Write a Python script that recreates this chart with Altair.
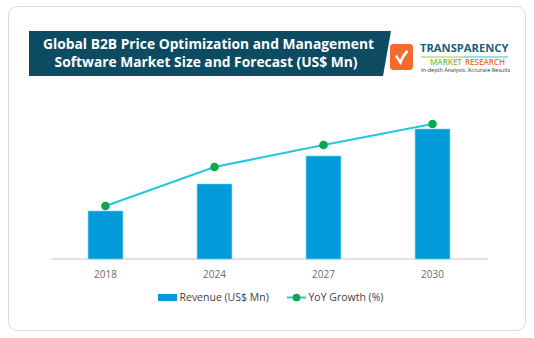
import altair as alt
import pandas as pd

# ---- data ----
years = ["2018", "2024", "2027", "2030"]
revenue = [480, 750, 1030, 1300]          # US$ Mn (relative)
yoy_growth = [5.3, 9.2, 11.4, 13.5]       # % (relative)

title_lines = ["Global B2B Price Optimization and Management",
               "Software Market Size and Forecast (US$ Mn)"]
legend_labels = ["Revenue (US$ Mn)", "YoY Growth (%)"]

df = pd.DataFrame({"year": years, "revenue": revenue, "growth": yoy_growth})
one = pd.DataFrame({"k": [0]})

W, H = 534, 338
FONT = "Open Sans"
BAR = "#019cd9"
LINE = "#22c8da"
DOT = "#0aa84e"
BANNER = "#0c4b62"

xs = alt.Scale(domain=years, range=[51, 487], paddingInner=0.68, paddingOuter=0.34)
ys_rev = alt.Scale(domain=[0, 1690], range=[259, 90])
ys_gr = alt.Scale(domain=[0, 16.9], range=[259, 90])

base = alt.Chart(df)

card = alt.Chart(one).mark_rect(
    fill="white", stroke="#dcdcdc", strokeWidth=1, cornerRadius=9
).encode(x=alt.value(8.5), x2=alt.value(525.5), y=alt.value(6.5), y2=alt.value(330.5))

banner = alt.Chart(one).mark_point(
    shape="M -1 -0.1243 L 1 -0.1243 L 0.9558 0.1243 L -1 0.1243 Z",
    filled=True, fill=BANNER, opacity=1, strokeWidth=0, size=131044
).encode(x=alt.value(210), y=alt.value(53.5))

title1 = alt.Chart(one).mark_text(
    text=title_lines[0], font=FONT, fontSize=13.8, fontWeight="bold", color="white",
    align="center", baseline="middle"
).encode(x=alt.value(208.5), y=alt.value(44.5))
title2 = alt.Chart(one).mark_text(
    text=title_lines[1], font=FONT, fontSize=13.8, fontWeight="bold", color="white",
    align="center", baseline="middle"
).encode(x=alt.value(206), y=alt.value(63))

# logo
logo_sq = alt.Chart(one).mark_rect(fill="#f26b2d", cornerRadius=3).encode(
    x=alt.value(390), x2=alt.value(413), y=alt.value(44), y2=alt.value(70))
logo_check = alt.Chart(one).mark_point(
    shape="M -0.55 -0.15 Q -0.35 0.2 -0.1 0.55 Q 0.1 -0.1 0.6 -0.6",
    filled=False, stroke="white", strokeWidth=2.5, opacity=1, size=400
).encode(x=alt.value(401.5), y=alt.value(57))
logo_t1 = alt.Chart(one).mark_text(
    text="TRANSPARENCY", font=FONT, fontSize=11.2, fontWeight="bold", color="#1b5f78",
    align="left", baseline="middle"
).encode(x=alt.value(420), y=alt.value(49))
logo_line_a = alt.Chart(one).mark_rule(strokeWidth=1.2, color="#9ccb4a").encode(
    x=alt.value(421), x2=alt.value(464), y=alt.value(57))
logo_line_b = alt.Chart(one).mark_rule(strokeWidth=1.2, color="#3bb6e3").encode(
    x=alt.value(464), x2=alt.value(508), y=alt.value(57))
logo_t2a = alt.Chart(one).mark_text(
    text="MARKET", font=FONT, fontSize=8, fontWeight=600, color="#7cbf35",
    align="left", baseline="middle"
).encode(x=alt.value(430), y=alt.value(63))
logo_t2b = alt.Chart(one).mark_text(
    text="RESEARCH", font=FONT, fontSize=8, fontWeight=600, color="#f26b2d",
    align="left", baseline="middle"
).encode(x=alt.value(465), y=alt.value(63))
logo_t3 = alt.Chart(one).mark_text(
    text="In-depth Analysis. Accurate Results", font=FONT, fontSize=5.5, color="#333333",
    align="left", baseline="middle"
).encode(x=alt.value(421), y=alt.value(70))

# plot
axis_line = alt.Chart(one).mark_rule(color="#e3e3e3", strokeWidth=2).encode(
    x=alt.value(51), x2=alt.value(488), y=alt.value(259))

bars = base.mark_bar(color=BAR, stroke="#7fd0ee", strokeWidth=0.6).encode(
    x=alt.X("year:N", scale=xs, axis=None, sort=years),
    y=alt.Y("revenue:Q", scale=ys_rev, axis=None),
)
line = base.mark_line(color=LINE, strokeWidth=2).encode(
    x=alt.X("year:N", scale=xs, axis=None, sort=years),
    y=alt.Y("growth:Q", scale=ys_gr, axis=None),
)
pts = base.mark_point(filled=True, color=DOT, opacity=1, size=75).encode(
    x=alt.X("year:N", scale=xs, axis=None, sort=years),
    y=alt.Y("growth:Q", scale=ys_gr, axis=None),
)
xlabels = base.mark_text(font=FONT, fontSize=10, color="#6b6b6b", baseline="middle").encode(
    x=alt.X("year:N", scale=xs, axis=None, sort=years),
    y=alt.value(275),
    text="year:N",
)

# legend
lg_rect = alt.Chart(one).mark_rect(color=BAR).encode(
    x=alt.value(158), x2=alt.value(177), y=alt.value(294), y2=alt.value(301))
lg_t1 = alt.Chart(one).mark_text(
    text=legend_labels[0], font=FONT, fontSize=10.5, color="#404040", align="left", baseline="middle"
).encode(x=alt.value(179.5), y=alt.value(297.5))
lg_line = alt.Chart(one).mark_rule(color=LINE, strokeWidth=2).encode(
    x=alt.value(287), x2=alt.value(306), y=alt.value(297.5))
lg_dot = alt.Chart(one).mark_point(filled=True, color=DOT, opacity=1, size=60).encode(
    x=alt.value(296.5), y=alt.value(297.5))
lg_t2 = alt.Chart(one).mark_text(
    text=legend_labels[1], font=FONT, fontSize=10.5, color="#404040", align="left", baseline="middle"
).encode(x=alt.value(308.5), y=alt.value(297.5))

chart = alt.layer(
    card, banner, title1, title2,
    logo_sq, logo_check, logo_line_a, logo_line_b, logo_t1, logo_t2a, logo_t2b, logo_t3,
    axis_line, bars, line, pts, xlabels,
    lg_rect, lg_t1, lg_line, lg_dot, lg_t2,
).resolve_scale(y="independent").properties(
    width=W, height=H, padding=0, autosize=alt.AutoSizeParams(type="none"),
    background="white",
).configure_view(stroke=None)

chart.save("out.html", embed_options={"renderer": "svg", "actions": False})
